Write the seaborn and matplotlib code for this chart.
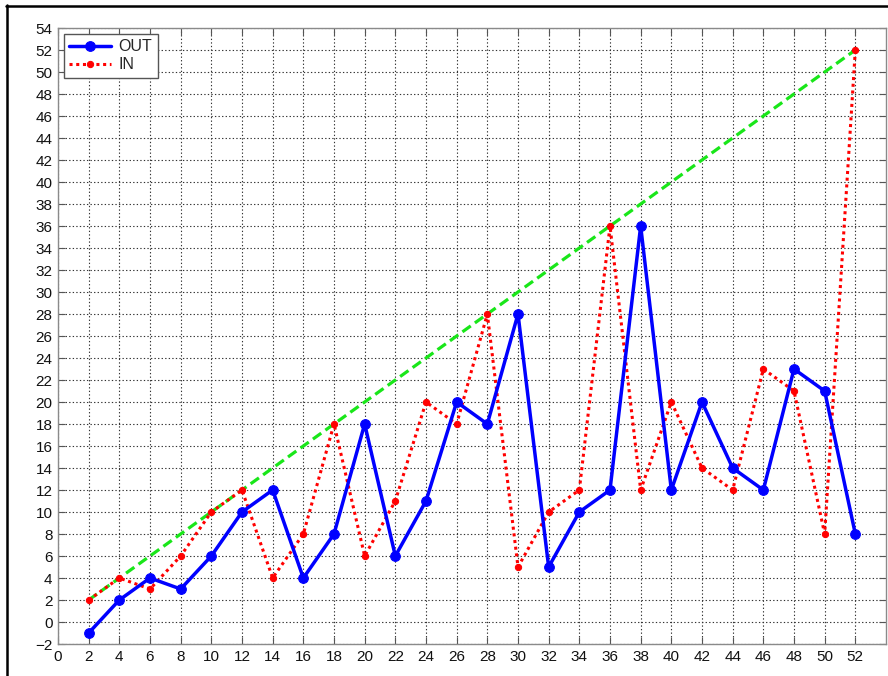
import numpy as np
import pandas as pd
import matplotlib
matplotlib.use("Agg")
import matplotlib.pyplot as plt
import seaborn as sns
from matplotlib.lines import Line2D

x_vals = [2, 4, 6, 8, 10, 12, 14, 16, 18, 20, 22, 24, 26, 28, 30, 32, 34, 36, 38, 40, 42, 44, 46, 48, 50, 52]
out_vals = [-1, 2, 4, 3, 6, 10, 12, 4, 8, 18, 6, 11, 20, 18, 28, 5, 10, 12, 36, 12, 20, 14, 12, 23, 21, 8]
in_vals = [2, 4, 3, 6, 10, 12, 4, 8, 18, 6, 11, 20, 18, 28, 5, 10, 12, 36, 12, 20, 14, 12, 23, 21, 8, 52]
ref_x = [2, 52]
ref_y = [2, 52]
x_ticks = list(range(0, 53, 2))
y_ticks = list(range(-2, 55, 2))

sns.set_style("white")
plt.rcParams['font.family'] = ['Liberation Sans', 'DejaVu Sans']

fig = plt.figure(figsize=(8.88, 6.76), dpi=100)
ax = fig.add_axes([58 / 888, (676 - 644) / 676, (886 - 58) / 888, (644 - 28) / 676])

df_out = pd.DataFrame({"x": x_vals, "y": out_vals})
df_in = pd.DataFrame({"x": x_vals, "y": in_vals})
df_ref = pd.DataFrame({"x": ref_x, "y": ref_y})

sns.lineplot(data=df_ref, x="x", y="y", ax=ax, color="#19e619", linestyle=(0, (3.2, 1.6)),
             linewidth=2.3, label="_nolegend_", zorder=3)
sns.lineplot(data=df_out, x="x", y="y", ax=ax, color="#0000ff", linewidth=2.5,
             marker="o", markersize=7, markeredgecolor="#0000ff", label="OUT", zorder=4)
sns.lineplot(data=df_in, x="x", y="y", ax=ax, color="#ff0000", linewidth=2.2,
             linestyle=(0, (1, 1.2)), marker="o", markersize=4.5, markeredgecolor="#ff0000",
             label="IN", zorder=3.5)

ax.set_xlim(0, 54)
ax.set_ylim(-2, 54)
ax.set_xticks(x_ticks)
ax.set_yticks(y_ticks)
ax.set_xlabel("")
ax.set_ylabel("")
ax.grid(True, color="#333333", linestyle=(0, (1.2, 2.0)), linewidth=0.8)
ax.set_axisbelow(True)
ax.tick_params(direction="in", length=5, width=0.8, color="#555555",
               top=True, right=True, bottom=True, left=True,
               labelsize=11, labelcolor="#111111", pad=4)
for s in ax.spines.values():
    s.set_visible(True)
    s.set_color("#8a8a8a")
    s.set_linewidth(1.0)

leg = ax.legend(loc="upper left", fontsize=11.5, frameon=True, fancybox=False,
                edgecolor="#555555", framealpha=1, borderpad=0.35, labelspacing=0.2,
                handlelength=2.6, handletextpad=0.5, borderaxespad=0.35)
leg.get_frame().set_linewidth(1.0)

# screenshot frame
fig.add_artist(Line2D([6 / 888, 1], [1 - 5.5 / 676, 1 - 5.5 / 676], color="black", linewidth=1.8,
                      transform=fig.transFigure))
fig.add_artist(Line2D([7 / 888, 7 / 888], [0, 1 - 5 / 676], color="black", linewidth=1.8,
                      transform=fig.transFigure))

fig.savefig("out.png", dpi=100)
